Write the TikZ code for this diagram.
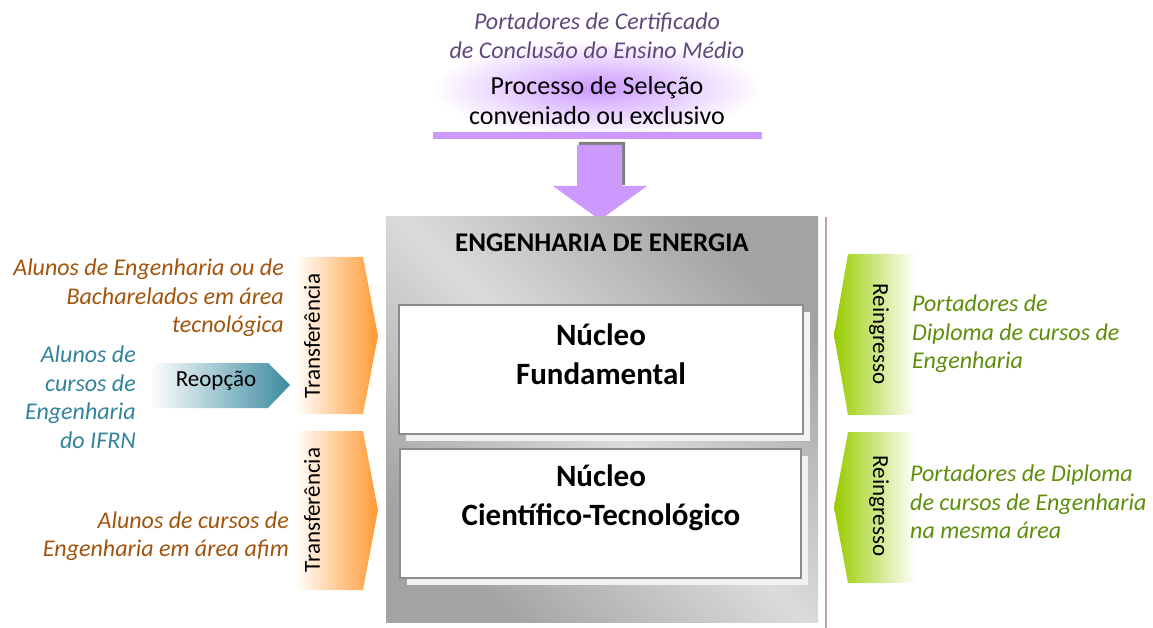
\documentclass[tikz,border=0pt]{standalone}
\usepackage{fontspec}
\setmainfont{Carlito}

\definecolor{lilac}{RGB}{204,153,255}
\definecolor{lilactext}{RGB}{95,73,122}
\definecolor{rust}{RGB}{163,84,12}
\definecolor{teal}{RGB}{49,132,155}
\definecolor{leaf}{RGB}{94,142,10}
\definecolor{lime}{RGB}{153,204,0}
\definecolor{tangerine}{RGB}{255,153,51}
\definecolor{rosy}{RGB}{192,160,160}

\begin{document}
\begin{tikzpicture}[x=1pt, y=-1pt,
		txt/.style={inner sep=0pt, font=\fontsize{24}{28.5}\selectfont\itshape},
		boldtxt/.style={inner sep=0pt, align=center, font=\fontsize{31}{39}\selectfont\bfseries},
		sidetxt/.style={inner sep=0pt, font=\fontsize{23}{28}\selectfont},
		core/.style={draw=gray!90, line width=1.5pt, fill=white}]
		\useasboundingbox (0, 0) rectangle (1153, 628);
		
		% entrance by selection, on top
		\shade[inner color=lilac, outer color=white] (597, 88) ellipse (165 and 48);
		\node[txt, lilactext, align=center] (cert) at (597, 36) {Portadores de Certificado\\de Conclusão do Ensino Médio};
		\node[inner sep=0pt, align=center, font=\fontsize{26}{30}\selectfont] (sel) at (597, 101) {Processo de Seleção\\conveniado ou exclusivo};
		\fill[lilac] (433, 132) rectangle (762, 139);
		
		% arrow down, with its shadow
		\fill[gray] (579, 142) -- (625, 142) -- (625, 185) -- (577, 185) -- cycle;
		\fill[lilac] (577, 145) -- (622, 145) -- (622, 186) -- (647, 186) -- (600, 220) -- (553, 186) -- (577, 186) -- cycle;
		
		% the course
		\shade[top color=gray!72, bottom color=gray!72, middle color=gray!28, shading angle=-45] (386, 217) rectangle (818, 622);
		\draw[rosy, line width=2pt] (826, 217) -- (826, 628);
		\node[inner sep=0pt, font=\fontsize{27}{32}\selectfont\bfseries] (course) at (602, 243) {ENGENHARIA DE ENERGIA};
		
		\fill[gray!10] (406, 312) rectangle (810, 441);    % shadow
		\draw[core] (399, 305) rectangle (803, 434);
		\node[boldtxt] (fund) at (601, 354) {Núcleo\\Fundamental};
		
		\fill[gray!10] (407, 456) rectangle (808, 585);    % shadow
		\draw[core] (400, 449) rectangle (801, 578);
		\node[boldtxt] (tec) at (601, 498) {Núcleo\\Científico-Tecnológico};
		
		% left side: transfer and reoption
		\shade[left color=white, right color=tangerine] (295, 257) -- (363, 257) -- (378, 336) -- (363, 414) -- (295, 414) -- cycle;
		\shade[left color=white, right color=tangerine] (295, 431) -- (363, 431) -- (378, 510) -- (363, 590) -- (295, 590) -- cycle;
		\node[sidetxt, rotate=90] (trans1) at (312, 336) {Transferência};
		\node[sidetxt, rotate=90] (trans2) at (312, 510) {Transferência};
		
		\shade[left color=white, right color=teal!95] (150, 363) -- (268, 363) -- (290, 385) -- (268, 408) -- (150, 408) -- cycle;
		\node[sidetxt] (reop) at (216, 381) {Reopção};
		
		\node[txt, rust, align=right, anchor=east] (bach) at (284, 298) {Alunos de Engenharia ou de\\Bacharelados em área\\tecnológica};
		\node[txt, teal, align=right, anchor=east] (ifrn) at (136, 397) {Alunos de\\cursos de\\Engenharia\\do IFRN};
		\node[txt, rust, align=right, anchor=east] (afim) at (289, 536) {Alunos de cursos de\\Engenharia em área afim};
		
		% right side: readmission
		\shade[left color=lime, right color=white] (915, 254) -- (848, 254) -- (834, 335) -- (848, 415) -- (915, 415) -- cycle;
		\shade[left color=lime, right color=white] (915, 432) -- (848, 432) -- (834, 507) -- (848, 583) -- (915, 583) -- cycle;
		\node[sidetxt, rotate=-90] (rein1) at (879, 334) {Reingresso};
		\node[sidetxt, rotate=-90] (rein2) at (879, 506) {Reingresso};
		
		\node[txt, leaf, align=left, anchor=west] (dipl) at (912, 334) {Portadores de\\Diploma de cursos de\\Engenharia};
		\node[txt, leaf, align=left, anchor=west] (area) at (910, 502) {Portadores de Diploma\\de cursos de Engenharia\\na mesma área};
	\end{tikzpicture}
\end{document}
